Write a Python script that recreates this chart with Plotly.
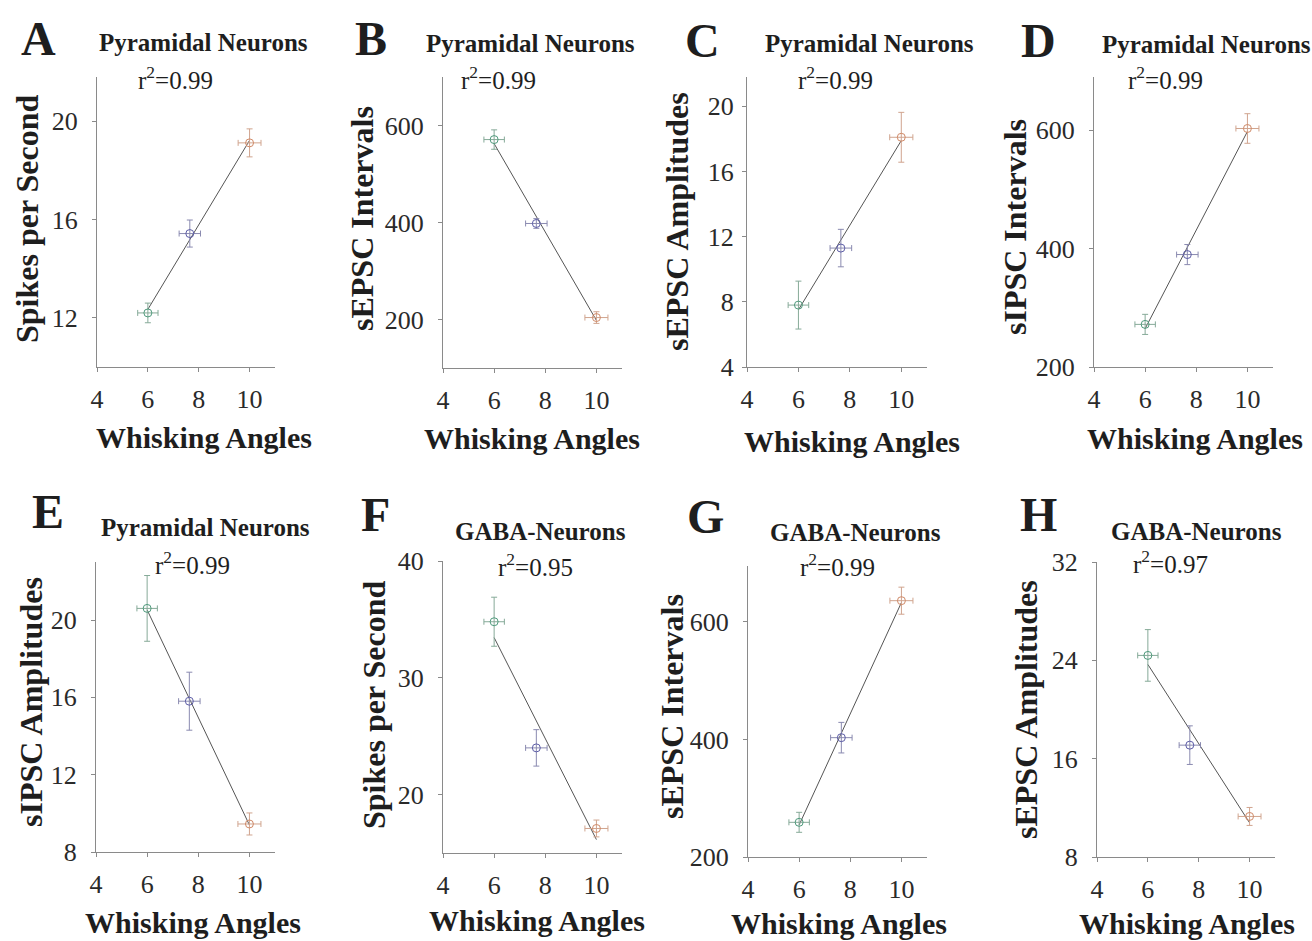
import numpy as np
import plotly.graph_objects as go

# ---- data -------------------------------------------------------------
# whisking angle groups (mean ± error), shared by every panel
WHISK_ANGLE = [6.0, 7.65, 10.0]
WHISK_ANGLE_ERR = [0.40, 0.42, 0.45]
GROUP_COLORS = ["#4f9a7c", "#5c5ca6", "#d08a68"]
ERRBAR_COLORS = ["#86aa98", "#8a8ab0", "#d0a48e"]

PANEL_LETTERS = ["A", "B", "C", "D", "E", "F", "G", "H"]
PANEL_TITLES = ["Pyramidal Neurons"] * 5 + ["GABA-Neurons"] * 3
Y_TITLES = ["Spikes per Second", "sEPSC Intervals", "sEPSC Amplitudes",
            "sIPSC Intervals", "sIPSC Amplitudes", "Spikes per Second",
            "sEPSC Intervals", "sEPSC Amplitudes"]
R_SQUARED = ["0.99", "0.99", "0.99", "0.99", "0.99", "0.95", "0.99", "0.97"]

A_spikes = [12.2, 15.43, 19.12]
A_spikes_err = [0.40, 0.55, 0.57]
B_sepsc_int = [571, 398, 204]
B_sepsc_int_err = [20, 10, 12]
C_sepsc_amp = [7.8, 11.3, 18.1]
C_sepsc_amp_err = [1.47, 1.15, 1.53]
D_sipsc_int = [272, 390, 603]
D_sipsc_int_err = [17, 17, 25]
E_sipsc_amp = [20.6, 15.8, 9.45]
E_sipsc_amp_err = [1.70, 1.50, 0.57]
F_spikes = [34.8, 24.0, 17.1]
F_spikes_err = [2.10, 1.56, 0.72]
G_sepsc_int = [259, 403, 636]
G_sepsc_int_err = [17, 26, 23]
H_sepsc_amp = [24.4, 17.1, 11.3]
H_sepsc_amp_err = [2.10, 1.57, 0.73]

X_TICKS = [4, 6, 8, 10]
Y_TICKS = [[12, 16, 20], [200, 400, 600], [4, 8, 12, 16, 20], [200, 400, 600],
           [8, 12, 16, 20], [20, 30, 40], [200, 400, 600], [8, 16, 24, 32]]

SERIES = [(A_spikes, A_spikes_err), (B_sepsc_int, B_sepsc_int_err),
          (C_sepsc_amp, C_sepsc_amp_err), (D_sipsc_int, D_sipsc_int_err),
          (E_sipsc_amp, E_sipsc_amp_err), (F_spikes, F_spikes_err),
          (G_sepsc_int, G_sepsc_int_err), (H_sepsc_amp, H_sepsc_amp_err)]

# ---- layout (pixel geometry of a 1312 x 941 canvas) -------------------
W, H = 1312, 941
X_RANGE = [4, 11]
Y_RANGES = [[10, 21.8], [100, 700], [4, 21.8], [200, 690],
            [8, 23], [15, 40], [200, 695], [8, 32]]
# plot boxes: left, right, top, bottom
BOXES = [(97, 275, 77, 367), (443, 622, 77, 368), (747, 927, 77, 367),
         (1094, 1273, 77, 367), (96, 275, 562, 852), (443, 622, 561, 853),
         (748, 927, 566, 857), (1097, 1275, 562, 857)]
YLABEL_STANDOFF = [9, 9, 3, 9, 9, 9, 9, 9]

LETTER_POS = [(38, 38), (371, 38), (703, 41), (1038, 40),
              (48, 512), (375, 514), (705, 516), (1038, 514)]
TITLE_POS = [(203, 42), (530, 43), (869, 43), (1206, 44),
             (205, 527), (540, 531), (855, 532), (1196, 531)]
R2_POS = [(175, 78), (498, 78), (835, 78), (1165, 78),
          (192, 563), (535, 565), (837, 565), (1170, 562)]
XTITLE_POS = [(204, 437), (532, 438), (852, 441), (1195, 439),
              (193, 922), (537, 920), (839, 923), (1187, 923)]
YTITLE_POS = [(27, 219), (362, 219), (677, 222), (1015, 227),
              (31, 702), (374, 704), (672, 707), (1026, 710)]

SERIF = "Liberation Serif, Times New Roman, serif"
TEXT = "#1e1e1e"
AXIS_GRAY = "#8a8a8a"


def px(x, y):
    return x / W, 1 - y / H


fig = go.Figure()
annotations = []
layout_axes = {}


def ann(pos, text, size, bold=False, angle=0):
    x, y = px(*pos)
    annotations.append(dict(
        x=x, y=y, xref="paper", yref="paper", text=text, showarrow=False,
        xanchor="center", yanchor="middle", textangle=angle,
        font=dict(family=SERIF, size=size, color=TEXT,
                  weight="bold" if bold else "normal")))


for i, (vals, errs) in enumerate(SERIES):
    n = i + 1
    xa, ya = f"x{n}", f"y{n}"

    # least-squares line through the three group means
    slope, intercept = np.polyfit(WHISK_ANGLE, vals, 1)
    x_fit = np.array([min(WHISK_ANGLE), max(WHISK_ANGLE)])
    fig.add_trace(go.Scatter(
        x=x_fit, y=slope * x_fit + intercept, mode="lines",
        line=dict(color="#555555", width=1),
        xaxis=xa, yaxis=ya, showlegend=False, hoverinfo="skip"))

    for j in range(3):
        fig.add_trace(go.Scatter(
            x=[WHISK_ANGLE[j]], y=[vals[j]], mode="markers",
            marker=dict(symbol="circle-open", size=8, color=GROUP_COLORS[j],
                        line=dict(width=1)),
            error_x=dict(type="data", array=[WHISK_ANGLE_ERR[j]],
                         color=ERRBAR_COLORS[j], thickness=1, width=3),
            error_y=dict(type="data", array=[errs[j]],
                         color=ERRBAR_COLORS[j], thickness=1, width=3),
            xaxis=xa, yaxis=ya, showlegend=False))

    l, r, t, b = BOXES[i]
    axis_common = dict(showgrid=False, zeroline=False, showline=True,
                       linecolor=AXIS_GRAY, linewidth=1, ticks="outside",
                       ticklen=4, tickcolor=AXIS_GRAY, tickwidth=1,
                       automargin=False,
                       tickfont=dict(family=SERIF, size=26, color="#2a2a2a"))
    layout_axes[f"xaxis{n}"] = dict(
        axis_common, domain=[l / W, r / W], range=X_RANGE,
        tickvals=X_TICKS, anchor=ya, ticklabelstandoff=5)
    layout_axes[f"yaxis{n}"] = dict(
        axis_common, domain=[1 - b / H, 1 - t / H], range=Y_RANGES[i],
        tickvals=Y_TICKS[i], anchor=xa, ticklabelstandoff=YLABEL_STANDOFF[i])

    ann(LETTER_POS[i], PANEL_LETTERS[i], 48, bold=True)
    ann(TITLE_POS[i], PANEL_TITLES[i], 25, bold=True)
    ann(R2_POS[i], "r<sup>2</sup>=" + R_SQUARED[i], 25)
    ann(XTITLE_POS[i], "Whisking Angles", 30, bold=True)
    ann(YTITLE_POS[i], Y_TITLES[i], 32, bold=True, angle=-90)

fig.update_layout(
    width=W, height=H,
    margin=dict(l=0, r=0, t=0, b=0, pad=0, autoexpand=False),
    paper_bgcolor="white", plot_bgcolor="white",
    annotations=annotations, **layout_axes)

fig.write_html("out.html")
